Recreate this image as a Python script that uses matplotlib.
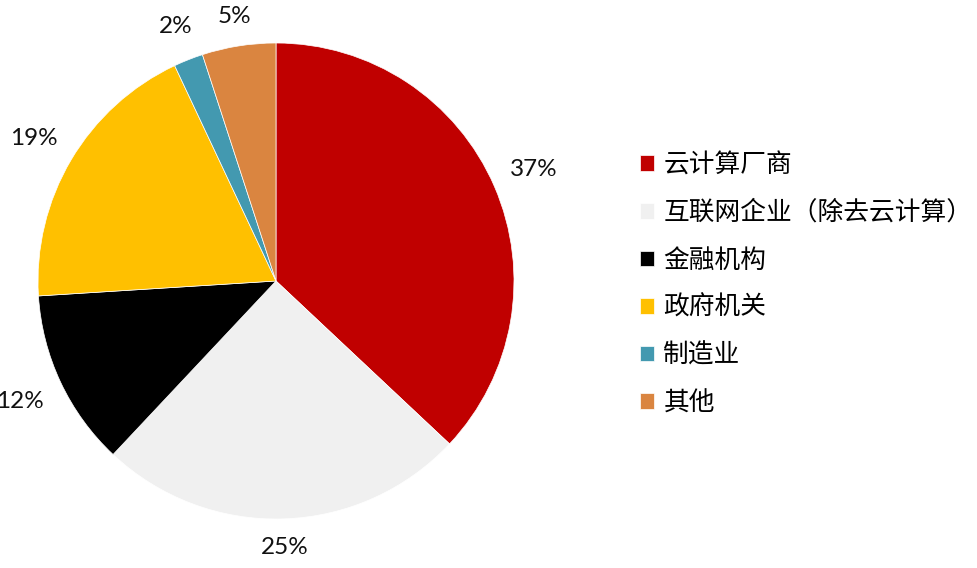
import numpy as np
import matplotlib.pyplot as plt

plt.rcParams['font.family'] = ['Noto Sans CJK SC', 'DejaVu Sans']

labels = ['云计算厂商', '互联网企业（除去云计算）', '金融机构', '政府机关', '制造业', '其他']
shares = [37, 25, 12, 19, 2, 5]
colors = ['#C00000', '#F0F0F0', '#000000', '#FFC000', '#4399B0', '#DA8540']
# how far out each percent label sits (in radii), like the best-fit placement
label_dist = [1.18, 1.12, 1.19, 1.18, 1.15, 1.125]

fig = plt.figure(figsize=(9.77, 5.68), dpi=100)
# pie area: center ~ (276, 281) px, radius ~ 238 px
ax = fig.add_axes([38 / 977, (568 - 519) / 568, 476 / 977, 476 / 568])

wedges, texts, autotexts = ax.pie(
    shares, colors=colors, startangle=90, counterclock=False,
    radius=1.0, autopct='%d%%', pctdistance=1.15,
    wedgeprops=dict(linewidth=0.5, edgecolor='white'),
    textprops=dict(fontsize=17.5, family=['Lato', 'DejaVu Sans'], color='#111111'),
)
for w, t, d in zip(wedges, autotexts, label_dist):
    ang = np.deg2rad((w.theta1 + w.theta2) / 2)
    t.set_position((d * np.cos(ang), d * np.sin(ang)))
    t.set_clip_on(False)
ax.set_xlim(-1, 1)
ax.set_ylim(-1, 1)
ax.set_aspect('equal')

fig.legend(wedges, labels, loc='upper left', bbox_to_anchor=(630 / 977, 1 - 142 / 568),
           frameon=False, fontsize=18.5, handlelength=0.55, handleheight=0.55,
           handletextpad=0.35, labelspacing=0.84, borderaxespad=0)

fig.savefig('out.png', dpi=100)
